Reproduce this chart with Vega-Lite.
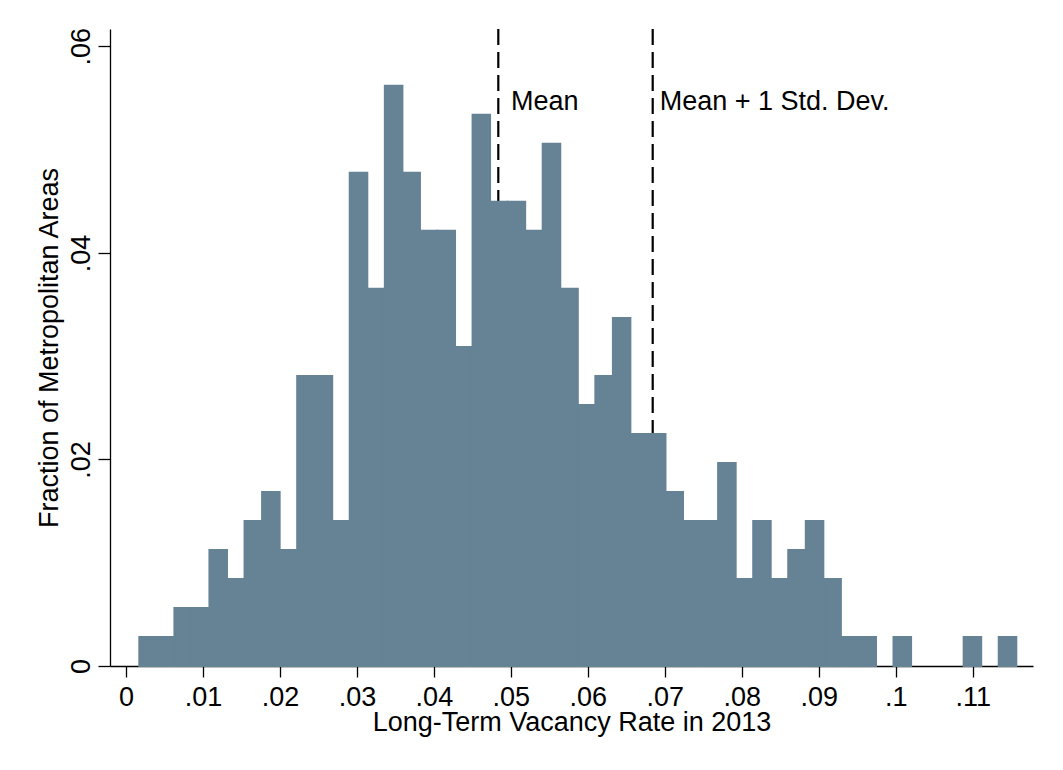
{
  "$schema": "https://vega.github.io/schema/vega-lite/v6.json",
  "width": 923,
  "height": 637,
  "autosize": "none",
  "padding": {"left": 110, "top": 29, "right": 30, "bottom": 104},
  "background": "white",
  "config": {"view": {"stroke": null}, "font": "Liberation Sans"},
  "datasets": {
    "bins": [
      {"bin_start": 0.00173, "bin_end": 0.00401, "fraction": 0.002809},
      {"bin_start": 0.00401, "bin_end": 0.00629, "fraction": 0.002809},
      {"bin_start": 0.00629, "bin_end": 0.00856, "fraction": 0.005618},
      {"bin_start": 0.00856, "bin_end": 0.01084, "fraction": 0.005618},
      {"bin_start": 0.01084, "bin_end": 0.01312, "fraction": 0.011236},
      {"bin_start": 0.01312, "bin_end": 0.01540, "fraction": 0.008427},
      {"bin_start": 0.01540, "bin_end": 0.01768, "fraction": 0.014045},
      {"bin_start": 0.01768, "bin_end": 0.01996, "fraction": 0.016854},
      {"bin_start": 0.01996, "bin_end": 0.02224, "fraction": 0.011236},
      {"bin_start": 0.02224, "bin_end": 0.02452, "fraction": 0.028090},
      {"bin_start": 0.02452, "bin_end": 0.02679, "fraction": 0.028090},
      {"bin_start": 0.02679, "bin_end": 0.02907, "fraction": 0.014045},
      {"bin_start": 0.02907, "bin_end": 0.03135, "fraction": 0.047753},
      {"bin_start": 0.03135, "bin_end": 0.03363, "fraction": 0.036517},
      {"bin_start": 0.03363, "bin_end": 0.03591, "fraction": 0.056180},
      {"bin_start": 0.03591, "bin_end": 0.03819, "fraction": 0.047753},
      {"bin_start": 0.03819, "bin_end": 0.04047, "fraction": 0.042135},
      {"bin_start": 0.04047, "bin_end": 0.04275, "fraction": 0.042135},
      {"bin_start": 0.04275, "bin_end": 0.04503, "fraction": 0.030899},
      {"bin_start": 0.04503, "bin_end": 0.04730, "fraction": 0.053371},
      {"bin_start": 0.04730, "bin_end": 0.04958, "fraction": 0.044944},
      {"bin_start": 0.04958, "bin_end": 0.05186, "fraction": 0.044944},
      {"bin_start": 0.05186, "bin_end": 0.05414, "fraction": 0.042135},
      {"bin_start": 0.05414, "bin_end": 0.05642, "fraction": 0.050562},
      {"bin_start": 0.05642, "bin_end": 0.05870, "fraction": 0.036517},
      {"bin_start": 0.05870, "bin_end": 0.06098, "fraction": 0.025281},
      {"bin_start": 0.06098, "bin_end": 0.06326, "fraction": 0.028090},
      {"bin_start": 0.06326, "bin_end": 0.06553, "fraction": 0.033708},
      {"bin_start": 0.06553, "bin_end": 0.06781, "fraction": 0.022472},
      {"bin_start": 0.06781, "bin_end": 0.07009, "fraction": 0.022472},
      {"bin_start": 0.07009, "bin_end": 0.07237, "fraction": 0.016854},
      {"bin_start": 0.07237, "bin_end": 0.07465, "fraction": 0.014045},
      {"bin_start": 0.07465, "bin_end": 0.07693, "fraction": 0.014045},
      {"bin_start": 0.07693, "bin_end": 0.07921, "fraction": 0.019663},
      {"bin_start": 0.07921, "bin_end": 0.08149, "fraction": 0.008427},
      {"bin_start": 0.08149, "bin_end": 0.08376, "fraction": 0.014045},
      {"bin_start": 0.08376, "bin_end": 0.08604, "fraction": 0.008427},
      {"bin_start": 0.08604, "bin_end": 0.08832, "fraction": 0.011236},
      {"bin_start": 0.08832, "bin_end": 0.09060, "fraction": 0.014045},
      {"bin_start": 0.09060, "bin_end": 0.09288, "fraction": 0.008427},
      {"bin_start": 0.09288, "bin_end": 0.09516, "fraction": 0.002809},
      {"bin_start": 0.09516, "bin_end": 0.09744, "fraction": 0.002809},
      {"bin_start": 0.09972, "bin_end": 0.10200, "fraction": 0.002809},
      {"bin_start": 0.10883, "bin_end": 0.11111, "fraction": 0.002809},
      {"bin_start": 0.11339, "bin_end": 0.11567, "fraction": 0.002809}
    ],
    "lines": [
      {"name": "Mean", "value": 0.04837},
      {"name": "Mean + 1 Std. Dev.", "value": 0.06843}
    ],
    "labels": [
      {"label": "Mean", "x": 0.05002, "y": 0.05387},
      {"label": "Mean + 1 Std. Dev.", "x": 0.06934, "y": 0.05387}
    ]
  },
  "layer": [
    {
      "data": {"name": "lines"},
      "mark": {"type": "rule", "color": "black", "strokeWidth": 2.2, "strokeDash": [16, 7]},
      "encoding": {
        "x": {"field": "value", "type": "quantitative"}
      }
    },
    {
      "data": {"name": "bins"},
      "mark": {"type": "bar", "fill": "#668396", "stroke": "#668396", "strokeWidth": 2},
      "encoding": {
        "x": {
          "field": "bin_start",
          "type": "quantitative",
          "title": "Long-Term Vacancy Rate in 2013",
          "scale": {"domain": [-0.00208, 0.11784], "nice": false, "zero": false},
          "axis": {
            "values": [0, 0.01, 0.02, 0.03, 0.04, 0.05, 0.06, 0.07, 0.08, 0.09, 0.1, 0.11],
            "labelExpr": "datum.value == 0 ? '0' : substring(format(datum.value, '.2~f'), 1)",
            "grid": false,
            "domainColor": "black",
            "domainWidth": 1.3,
            "tickColor": "black",
            "tickWidth": 1.3,
            "tickSize": 11,
            "labelFont": "Liberation Sans",
            "labelFontSize": 27,
            "labelColor": "black",
            "labelBaseline": "alphabetic",
            "labelPadding": 28.5,
            "labelFlush": false,
            "labelOverlap": false,
            "titleFont": "Liberation Sans",
            "titleFontSize": 27,
            "titleFontWeight": "normal",
            "titleColor": "black",
            "titleBaseline": "alphabetic",
            "titleY": 64
          }
        },
        "x2": {"field": "bin_end"},
        "y": {
          "field": "fraction",
          "type": "quantitative",
          "title": "Fraction of Metropolitan Areas",
          "scale": {"domain": [0, 0.06168], "nice": false},
          "axis": {
            "values": [0, 0.02, 0.04, 0.06],
            "labelExpr": "datum.value == 0 ? '0' : substring(format(datum.value, '.2f'), 1)",
            "grid": false,
            "domainColor": "black",
            "domainWidth": 1.3,
            "tickColor": "black",
            "tickWidth": 1.3,
            "tickSize": 12,
            "labelFont": "Liberation Sans",
            "labelFontSize": 27,
            "labelColor": "black",
            "labelAngle": -90,
            "labelAlign": "center",
            "labelBaseline": "alphabetic",
            "labelPadding": 9,
            "labelFlush": false,
            "labelOverlap": false,
            "titleFont": "Liberation Sans",
            "titleFontSize": 27,
            "titleFontWeight": "normal",
            "titleColor": "black",
            "titleAngle": -90,
            "titleAlign": "center",
            "titleBaseline": "alphabetic",
            "titleX": -53,
            "titleY": 318.5
          }
        },
        "y2": {"datum": 0}
      }
    },
    {
      "data": {"name": "labels"},
      "mark": {"type": "text", "align": "left", "baseline": "alphabetic", "font": "Liberation Sans", "fontSize": 27, "color": "black"},
      "encoding": {
        "x": {"field": "x", "type": "quantitative"},
        "y": {"field": "y", "type": "quantitative"},
        "text": {"field": "label"}
      }
    }
  ]
}
